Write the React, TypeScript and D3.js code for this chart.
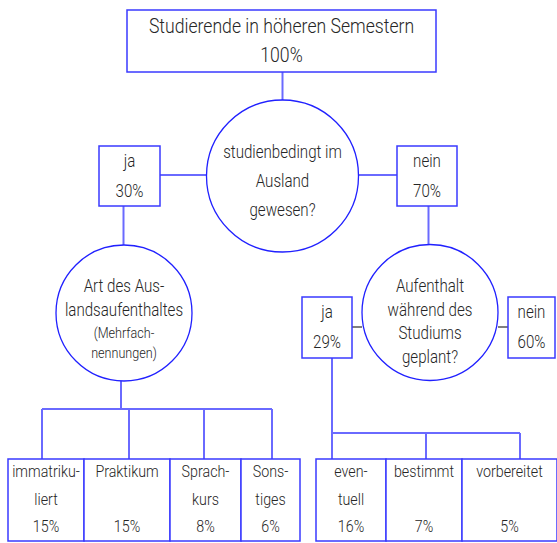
import React from "react";
import * as d3 from "d3";

// ---- data ----
const rootLabel = "Studierende in höheren Semestern";
const rootValue = 100;
const q1Lines = ["studienbedingt im", "Ausland", "gewesen?"];
const q1Answers = ["ja", "nein"];
const q1Values = [30, 70];
const artLines = ["Art des Aus-", "landsaufenthaltes"];
const artNote = ["(Mehrfach-", "nennungen)"];
const artCategories = [["immatriku-", "liert"], ["Praktikum"], ["Sprach-", "kurs"], ["Sons-", "tiges"]];
const artValues = [15, 15, 8, 6];
const q2Lines = ["Aufenthalt", "während des", "Studiums", "geplant?"];
const q2Answers = ["ja", "nein"];
const q2Values = [29, 60];
const planCategories = [["even-", "tuell"], ["bestimmt"], ["vorbereitet"]];
const planValues = [16, 7, 5];

// ---- layout ----
const W = 557, H = 543;
const FONT = "Roboto, 'Liberation Sans', sans-serif";
const SX = 0.84;
const BOX = "#3a3aff";
const LINK = "#6a6aff";
const CIRC = "#2020ff";
const TXT = "#262626";

const pct = (v: number) => `${d3.format("d")(v)}%`;

const rootBox = { x: 127, y: 10, w: 309, h: 62 };
const q1Circle = { cx: 282.5, cy: 176, r: 76 };
const q1Boxes = [{ x: 99, y: 146, w: 61, h: 60 }, { x: 397, y: 146, w: 60, h: 60 }];
const artCircle = { cx: 124, cy: 313, r: 68 };
const q2Circle = { cx: 430, cy: 312.5, r: 68 };
const q2Boxes = [{ x: 302, y: 297, w: 50, h: 61 }, { x: 508, y: 297, w: 47, h: 61 }];
const artEdges = [8, 84, 170, 241, 300];
const planEdges = [316, 386, 462, 557];
const leafTop = 459, leafBottom = 541;
const artBracketY = 409, planBracketY = 433;

function T({ x, y, size = 17, children }: { x: number; y: number; size?: number; children: React.ReactNode }) {
  return (
    <text transform={`translate(${x},${y}) scale(${SX},1)`} textAnchor="middle" fontSize={size} fill={TXT} fontFamily={FONT} fontWeight={300}>
      {children}
    </text>
  );
}

function Lines({ lines, x, y0, dy, size = 17 }: { lines: string[]; x: number; y0: number; dy: number; size?: number }) {
  return (
    <>
      {lines.map((l, i) => (
        <T key={i} x={x} y={y0 + i * dy} size={size}>{l}</T>
      ))}
    </>
  );
}

function Leaves({ edges, cats, vals }: { edges: number[]; cats: string[][]; vals: number[] }) {
  return (
    <>
      {cats.map((c, i) => {
        const x0 = edges[i], x1 = edges[i + 1];
        const cx = (x0 + x1) / 2;
        return (
          <g key={i}>
            <rect x={x0} y={leafTop} width={x1 - x0} height={leafBottom - leafTop} fill="white" stroke={BOX} strokeWidth={1.5} />
            <Lines lines={c} x={cx} y0={477} dy={28} size={17} />
            <T x={cx} y={532} size={17}>{pct(vals[i])}</T>
          </g>
        );
      })}
    </>
  );
}

export default function App() {
  const planCenters = [332, 426, 520];
  const q2ja = q2Boxes[0];
  return (
    <svg width={W} height={H} style={{ position: "absolute", left: 0, top: 0, background: "white" }}>
      {/* connectors */}
      <g stroke={LINK} strokeWidth={2} fill="none">
        <line x1={282.5} y1={72} x2={282.5} y2={q1Circle.cy - q1Circle.r} />
        <line x1={160} y1={175} x2={q1Circle.cx - q1Circle.r} y2={175} />
        <line x1={q1Circle.cx + q1Circle.r} y1={175} x2={397} y2={175} />
        <line x1={123.5} y1={206} x2={123.5} y2={artCircle.cy - artCircle.r} />
        <line x1={428.5} y1={206} x2={428.5} y2={q2Circle.cy - q2Circle.r} />
        <line x1={121} y1={artCircle.cy + artCircle.r} x2={121} y2={artBracketY} />
        <line x1={42} y1={artBracketY} x2={272} y2={artBracketY} />
        {[42, 129, 204, 272].map((x, i) => (
          <line key={i} x1={x} y1={artBracketY} x2={x} y2={leafTop} />
        ))}
        <line x1={332} y1={q2ja.y + q2ja.h} x2={332} y2={leafTop} />
        <line x1={332} y1={planBracketY} x2={520} y2={planBracketY} />
        {planCenters.slice(1).map((x, i) => (
          <line key={i} x1={x} y1={planBracketY} x2={x} y2={leafTop} />
        ))}
      </g>
      <g stroke="#555" strokeWidth={1.5}>
        <line x1={352} y1={327} x2={q2Circle.cx - q2Circle.r} y2={327} />
        <line x1={q2Circle.cx + q2Circle.r} y1={327} x2={508} y2={327} />
      </g>

      {/* root */}
      <rect x={rootBox.x} y={rootBox.y} width={rootBox.w} height={rootBox.h} fill="white" stroke={BOX} strokeWidth={1.5} />
      <Lines lines={[rootLabel, pct(rootValue)]} x={rootBox.x + rootBox.w / 2} y0={33} dy={29} size={21} />

      {/* q1 */}
      <circle cx={q1Circle.cx} cy={q1Circle.cy} r={q1Circle.r} fill="white" stroke={CIRC} strokeWidth={1.3} />
      <Lines lines={q1Lines} x={q1Circle.cx} y0={158} dy={29} size={18} />
      {q1Boxes.map((b, i) => (
        <g key={i}>
          <rect x={b.x} y={b.y} width={b.w} height={b.h} fill="white" stroke={BOX} strokeWidth={1.5} />
          <Lines lines={[q1Answers[i], pct(q1Values[i])]} x={b.x + b.w / 2} y0={167} dy={30} size={18} />
        </g>
      ))}

      {/* art circle */}
      <circle cx={artCircle.cx} cy={artCircle.cy} r={artCircle.r} fill="white" stroke={CIRC} strokeWidth={1.3} />
      <Lines lines={artLines} x={artCircle.cx} y0={292} dy={24} size={18} />
      <Lines lines={artNote} x={artCircle.cx} y0={338} dy={20} size={15} />

      {/* q2 */}
      <circle cx={q2Circle.cx} cy={q2Circle.cy} r={q2Circle.r} fill="white" stroke={CIRC} strokeWidth={1.3} />
      <Lines lines={q2Lines} x={q2Circle.cx} y0={292} dy={23.5} size={18} />
      {q2Boxes.map((b, i) => (
        <g key={i}>
          <rect x={b.x} y={b.y} width={b.w} height={b.h} fill="white" stroke={BOX} strokeWidth={1.5} />
          <Lines lines={[q2Answers[i], pct(q2Values[i])]} x={b.x + b.w / 2} y0={318} dy={30} size={18} />
        </g>
      ))}

      {/* leaves */}
      <Leaves edges={artEdges} cats={artCategories} vals={artValues} />
      <Leaves edges={planEdges} cats={planCategories} vals={planValues} />
    </svg>
  );
}
